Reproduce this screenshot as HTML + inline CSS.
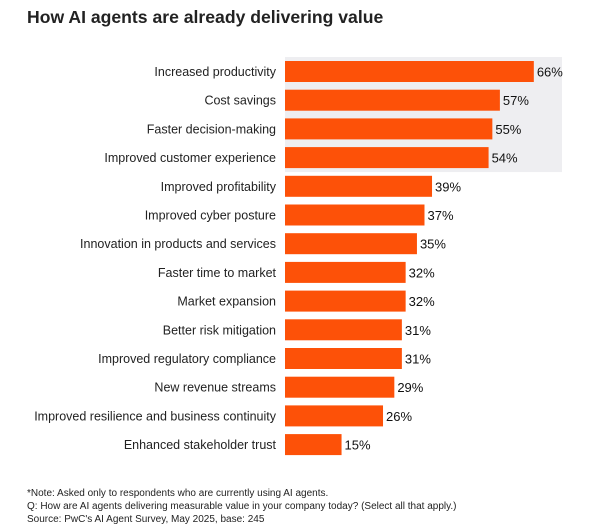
<!DOCTYPE html>
<html><head><meta charset="utf-8"><style>
body{margin:0;background:#fff;font-family:"Liberation Sans",Arial,sans-serif;}
#wrap{position:relative;width:600px;height:528px;overflow:hidden;}
.title{position:absolute;left:27px;top:7px;font-size:17.6px;font-weight:bold;color:#222;}
.foot{position:absolute;left:27px;top:487px;font-size:10px;line-height:13px;color:#222;}
</style></head><body>
<div id="wrap">
<div class="title">How AI agents are already delivering value</div>
<svg id="chart" width="600" height="528" style="position:absolute;left:0;top:0"></svg>
<div class="foot">*Note: Asked only to respondents who are currently using AI agents.<br>Q: How are AI agents delivering measurable value in your company today? (Select all that apply.)<br>Source: PwC's AI Agent Survey, May 2025, base: 245</div>
</div>
<script>
const categories=["Increased productivity","Cost savings","Faster decision-making","Improved customer experience","Improved profitability","Improved cyber posture","Innovation in products and services","Faster time to market","Market expansion","Better risk mitigation","Improved regulatory compliance","New revenue streams","Improved resilience and business continuity","Enhanced stakeholder trust"];
const values=[66,57,55,54,39,37,35,32,32,31,31,29,26,15];
const valueLabels=["66%","57%","55%","54%","39%","37%","35%","32%","32%","31%","31%","29%","26%","15%"];
const highlightCount=4;
const NS="http://www.w3.org/2000/svg";
const svg=document.getElementById('chart');
const x0=285,scale=3.77,top0=61,step=28.7,bh=21;
const xs=v=>x0+v*scale;
const ys=i=>top0+i*step;
function mk(t,a){const e=document.createElementNS(NS,t);for(const k in a)e.setAttribute(k,a[k]);svg.appendChild(e);return e;}
const bg=mk('rect',{x:x0,y:57,width:277,height:ys(highlightCount-1)+bh+4-57,fill:'#eeeef1'});


categories.forEach((c,i)=>{
 const y=ys(i);
 const l=mk('text',{x:276,y:y+bh/2+4.5,'text-anchor':'end','font-size':'12.5',fill:'#222','font-family':'Liberation Sans, sans-serif'});
 l.textContent=c;
 
 
 const r=mk('rect',{x:x0,y:y,width:xs(values[i])-x0,height:bh,fill:'#fd5108'});
 
 
 const v=mk('text',{x:xs(values[i])+3,y:y+bh/2+5,'font-size':'13',fill:'#111','font-family':'Liberation Sans, sans-serif'});
 v.textContent=valueLabels[i];
 
 
});
</script>
</body></html>
